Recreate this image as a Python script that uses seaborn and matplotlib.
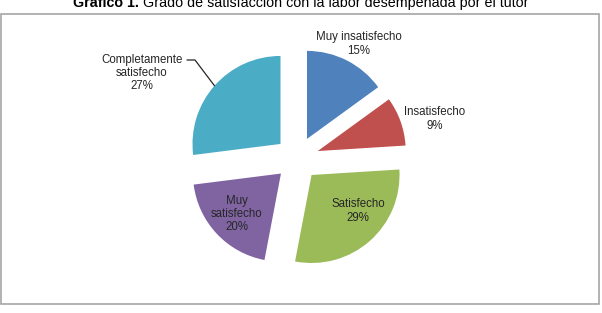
import numpy as np
import seaborn as sns
import matplotlib.pyplot as plt
from matplotlib.patches import Rectangle

# datos
categorias = ['Muy insatisfecho', 'Insatisfecho', 'Satisfecho', 'Muy\nsatisfecho',
              'Completamente\nsatisfecho']
porcentajes = [15, 9, 29, 20, 27]
colores = ['#4F81BD', '#C0504D', '#9BBB59', '#8064A2', '#4BACC6']

titulo_neg = 'Gráfico 1.'
titulo = ' Grado de satisfacción con la labor desempeñada por el tutor'

W, H = 602, 313
CENTRO = (297, H - 158.5)
RADIO = 88
SEPARACION = 22  # desplazamiento de cada sector, en pixeles

# posicion de las etiquetas en pixeles (y hacia abajo)
pos_etiquetas = [(359, 44), (435, 119), (358, 211), (237, 214), (142, 73)]

sns.set_theme(style='white')
plt.rcParams['font.family'] = ['Liberation Sans', 'DejaVu Sans']

fig = plt.figure(figsize=(W / 100, H / 100), dpi=100)
ax = fig.add_axes([0, 0, 1, 1])

wedges, _ = ax.pie(porcentajes, colors=colores, startangle=90, counterclock=False,
                   explode=[SEPARACION] * len(porcentajes), center=CENTRO, radius=RADIO,
                   wedgeprops=dict(linewidth=0))
ax.set_xlim(0, W)
ax.set_ylim(0, H)
ax.set_aspect('auto')
ax.axis('off')

# marco del grafico
ax.add_patch(Rectangle((0.5, H - 304), 598, 290, fill=False, edgecolor='#a6a6a6',
                       linewidth=1.2))

for w, cat, p, (x, y) in zip(wedges, categorias, porcentajes, pos_etiquetas):
    ax.text(x, H - y, f'{cat}\n{p}%', ha='center', va='center', fontsize=8.3,
            color='#262626', linespacing=1.15, multialignment='center')

# linea guia para "Completamente satisfecho"
w = wedges[-1]
ang = np.deg2rad((w.theta1 + w.theta2) / 2)
cx, cy = w.center
px, py = cx + RADIO * np.cos(ang), cy + RADIO * np.sin(ang)
ax.plot([187, 195, px], [H - 60, H - 60, py], color='#262626', linewidth=0.9)

# titulo con parte en negrita
fig.canvas.draw()
r = fig.canvas.get_renderer()
t1 = fig.text(0, 0, titulo_neg, fontsize=10.3, fontweight='bold', color='#000000')
t2 = fig.text(0, 0, titulo, fontsize=10.3, color='#000000')
w1 = t1.get_window_extent(r).width
w2 = t2.get_window_extent(r).width
x0 = 301 - (w1 + w2) / 2
t1.set_position((x0 / W, (H - 7) / H))
t2.set_position(((x0 + w1) / W, (H - 7) / H))

fig.savefig('out.png', dpi=100)
